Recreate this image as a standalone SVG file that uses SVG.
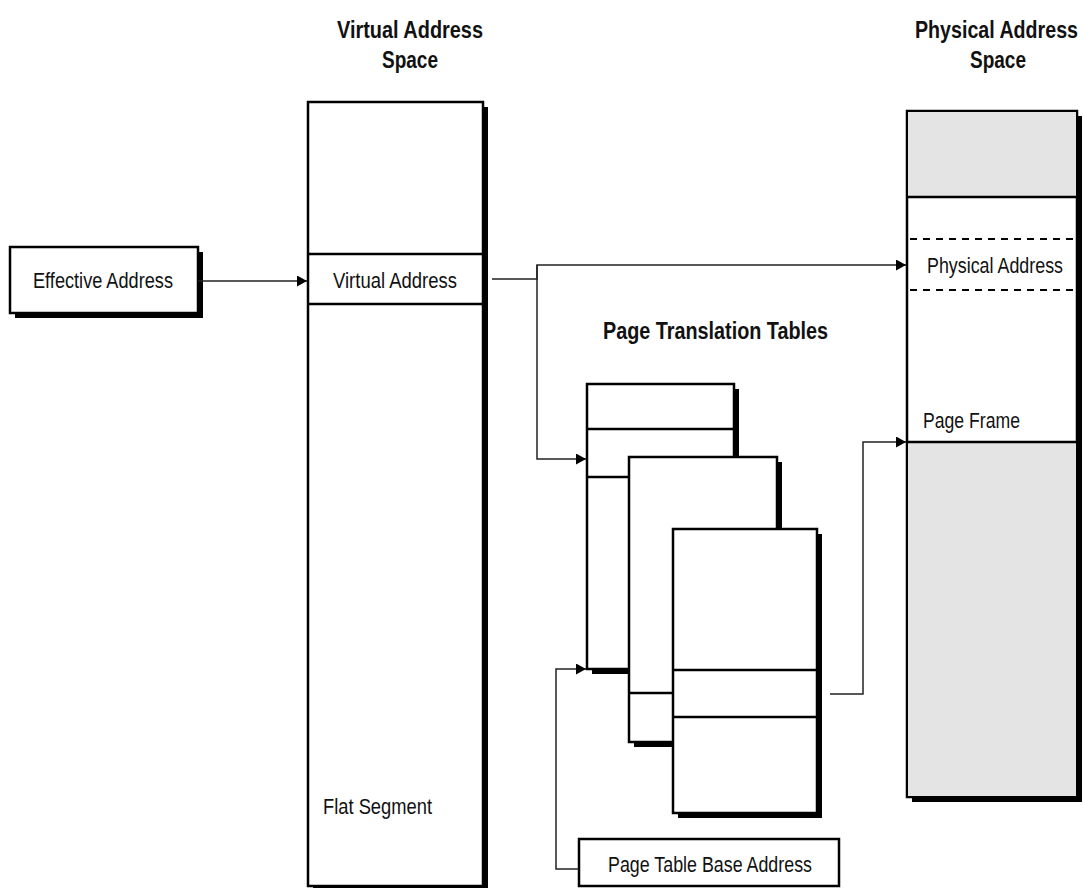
<svg xmlns="http://www.w3.org/2000/svg" width="1083" height="888" viewBox="0 0 1083 888">
<style>
.box{fill:#fff;stroke:#000;stroke-width:2.5}
.shadow{fill:#000}
.gray{fill:#e4e4e4}
.line{stroke:#000;stroke-width:2.5;fill:none}
.dash{stroke:#000;stroke-width:2;stroke-dasharray:7 6;fill:none}
.conn{stroke:#222;stroke-width:1.5;fill:none}
.lbl{font-family:"Liberation Sans",Arial,sans-serif;font-size:22px;fill:#111}
.hd{font-family:"Liberation Sans",Arial,sans-serif;font-size:23px;font-weight:bold;fill:#111}
</style>
<defs>
<marker id="arr" markerUnits="userSpaceOnUse" markerWidth="11" markerHeight="11" refX="10" refY="5.5" orient="auto">
<path d="M0,0 L10,5.5 L0,11 z" fill="#000"/>
</marker>
</defs>
<rect width="1083" height="888" fill="#fff"/>

<g id="headings">
<text class="hd" x="337" y="38" textLength="146" lengthAdjust="spacingAndGlyphs">Virtual Address</text>
<text class="hd" x="382" y="68" textLength="56" lengthAdjust="spacingAndGlyphs">Space</text>
<text class="hd" x="915" y="38" textLength="163" lengthAdjust="spacingAndGlyphs">Physical Address</text>
<text class="hd" x="970" y="68" textLength="56" lengthAdjust="spacingAndGlyphs">Space</text>
<text class="hd" x="603" y="339" textLength="225" lengthAdjust="spacingAndGlyphs">Page Translation Tables</text>
</g>

<g id="effective-address">
<rect class="shadow" x="15" y="252" width="188" height="66"/>
<rect class="box" x="10" y="247" width="188" height="66"/>
<text class="lbl" x="33" y="288" textLength="140" lengthAdjust="spacingAndGlyphs">Effective Address</text>
</g>

<g id="virtual-address-space">
<rect class="shadow" x="313" y="107" width="175" height="790"/>
<rect class="box" x="308" y="102" width="175" height="784"/>
<line class="line" x1="308" y1="254" x2="483" y2="254"/>
<line class="line" x1="308" y1="304" x2="483" y2="304"/>
<text class="lbl" x="333" y="288" textLength="124" lengthAdjust="spacingAndGlyphs">Virtual Address</text>
<text class="lbl" x="323" y="814" textLength="109" lengthAdjust="spacingAndGlyphs">Flat Segment</text>
</g>

<g id="page-table-1">
<rect class="shadow" x="592" y="389" width="147" height="285"/>
<rect class="box" x="587" y="384" width="147" height="285"/>
<line class="line" x1="587" y1="429" x2="734" y2="429"/>
<line class="line" x1="587" y1="477" x2="630" y2="477"/>
</g>

<g id="page-table-2">
<rect class="shadow" x="634" y="462" width="148" height="285"/>
<rect class="box" x="629" y="457" width="148" height="285"/>
<line class="line" x1="629" y1="693" x2="674" y2="693"/>
</g>

<g id="page-table-3">
<rect class="shadow" x="678" y="534" width="144" height="284"/>
<rect class="box" x="673" y="529" width="144" height="284"/>
<line class="line" x1="673" y1="670" x2="817" y2="670"/>
<line class="line" x1="673" y1="717" x2="817" y2="717"/>
</g>

<g id="physical-address-space">
<rect class="shadow" x="912" y="116" width="170" height="686"/>
<rect class="box" x="907" y="111" width="170" height="686"/>
<rect class="gray" x="908" y="112" width="168" height="85"/>
<rect class="gray" x="908" y="442" width="168" height="354"/>
<line class="line" x1="907" y1="197" x2="1077" y2="197"/>
<line class="line" x1="907" y1="442" x2="1077" y2="442"/>
<line class="dash" x1="910" y1="239" x2="1077" y2="239"/>
<line class="dash" x1="910" y1="290" x2="1077" y2="290"/>
<text class="lbl" x="927" y="273" textLength="136" lengthAdjust="spacingAndGlyphs">Physical Address</text>
<text class="lbl" x="923" y="428" textLength="97" lengthAdjust="spacingAndGlyphs">Page Frame</text>
</g>

<g id="page-table-base-address">
<rect class="box" x="579" y="839" width="260" height="47"/>
<text class="lbl" x="608" y="872" textLength="204" lengthAdjust="spacingAndGlyphs">Page Table Base Address</text>
</g>

<g id="connectors">
<path class="conn" d="M198,281 H307" marker-end="url(#arr)"/>
<path class="conn" d="M492,279 H537 V265 H906" marker-end="url(#arr)"/>
<path class="conn" d="M537,265 V459 H586" marker-end="url(#arr)"/>
<path class="conn" d="M579,869 H556 V669 H586" marker-end="url(#arr)"/>
<path class="conn" d="M830,694 H863 V442 H906" marker-end="url(#arr)"/>
</g>
</svg>
